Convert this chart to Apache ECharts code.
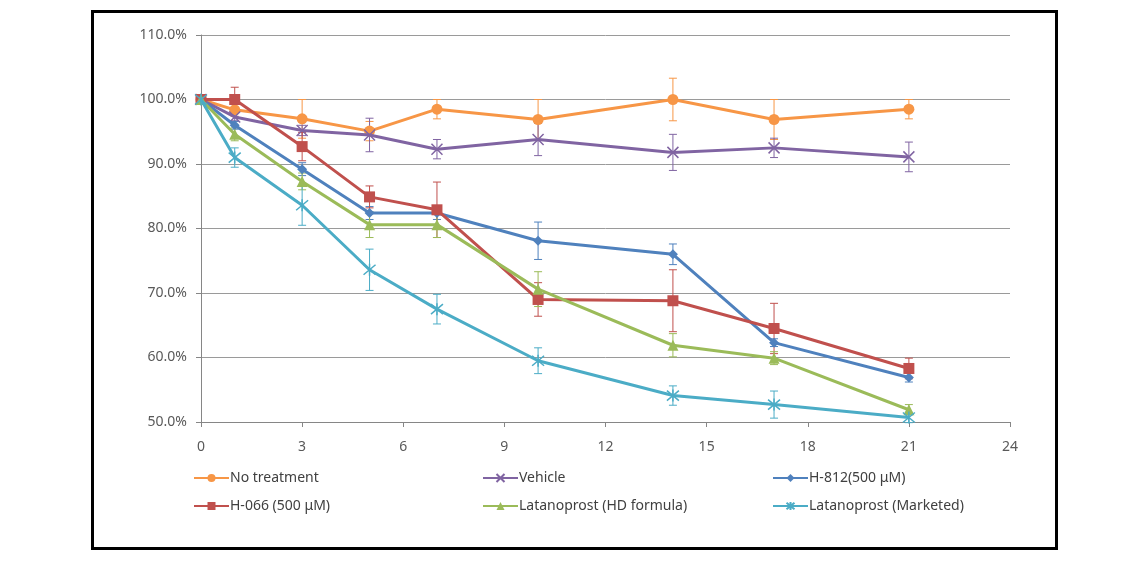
<!DOCTYPE html>
<html>
<head>
<meta charset="utf-8">
<script src="https://cdn.jsdelivr.net/npm/echarts@6/dist/echarts.min.js"></script>
<style>
html,body{margin:0;padding:0;background:#fff;}
#chart{width:1135px;height:574px;}
</style>
</head>
<body>
<div id="chart"></div>
<script>
// ---- data ----
const days = [0, 1, 3, 5, 7, 10, 14, 17, 21];
const seriesNames = ['No treatment', 'Vehicle', 'H-812(500 μM)', 'H-066 (500 μM)', 'Latanoprost (HD formula)', 'Latanoprost (Marketed)'];

const noTreatment     = [100, 98.4, 97.0, 95.1, 98.5, 96.9, 100.0, 96.9, 98.5];
const noTreatmentErr  = [0, 1.0, 3.0, 1.5, 1.5, 3.1, 3.3, 3.1, 1.5];
const vehicle         = [100, 97.3, 95.2, 94.5, 92.3, 93.8, 91.8, 92.5, 91.1];
const vehicleErr      = [0, 0.6, 0.8, 2.6, 1.5, 2.5, 2.8, 1.5, 2.3];
const h812            = [100, 96.0, 89.2, 82.4, 82.4, 78.1, 76.0, 62.3, 56.9];
const h812Err         = [0, 0.6, 1.0, 1.0, 1.0, 2.9, 1.6, 0.6, 0.7];
const h066            = [100, 100.0, 92.7, 84.9, 82.9, 69.0, 68.8, 64.5, 58.3];
const h066Err         = [0, 1.9, 2.2, 1.7, 4.3, 2.6, 4.8, 3.9, 1.6];
const latHD           = [100, 94.6, 87.3, 80.6, 80.6, 70.6, 61.9, 59.9, 51.9];
const latHDErr        = [0, 1.0, 1.3, 2.0, 2.0, 2.7, 1.8, 1.0, 0.8];
const latMkt          = [100, 91.0, 83.6, 73.6, 67.5, 59.5, 54.1, 52.7, 50.7];
const latMktErr       = [0, 1.5, 3.1, 3.2, 2.3, 2.0, 1.5, 2.1, 0.8];

const xTicks = [0, 3, 6, 9, 12, 15, 18, 21, 24];
const yTicks = [50, 60, 70, 80, 90, 100, 110];

// ---- styles ----
const colors = ['#F79646', '#8064A2', '#4F81BD', '#C0504D', '#9BBB59', '#4BACC6'];
const symbols = [
  'circle',
  'path://M0,0L10,10M0,10L10,0',
  'diamond',
  'rect',
  'triangle',
  'path://M0,0L10,10M0,10L10,0M5,-1L5,11'
];
const symbolSizes = [11, 11, 10, 11, 11, 12];
const values = [noTreatment, vehicle, h812, h066, latHD, latMkt];
const errs = [noTreatmentErr, vehicleErr, h812Err, h066Err, latHDErr, latMktErr];

const series = [];
// error bars first (beneath lines)
values.forEach((vals, i) => {
  const data = days.map((d, k) => [d, vals[k] - errs[i][k], vals[k] + errs[i][k]]);
  series.push({
    type: 'custom',
    name: seriesNames[i] + ' err',
    silent: true,
    z: 1,
    data: data,
    renderItem: function (params, api) {
      const x = api.value(0);
      const lo = api.coord([x, api.value(1)]);
      const hi = api.coord([x, api.value(2)]);
      const w = 4;
      const st = { stroke: colors[i], lineWidth: 1 };
      return {
        type: 'group',
        children: [
          { type: 'line', shape: { x1: lo[0], y1: lo[1], x2: hi[0], y2: hi[1] }, style: st },
          { type: 'line', shape: { x1: lo[0] - w, y1: lo[1], x2: lo[0] + w, y2: lo[1] }, style: st },
          { type: 'line', shape: { x1: hi[0] - w, y1: hi[1], x2: hi[0] + w, y2: hi[1] }, style: st }
        ]
      };
    }
  });
});
values.forEach((vals, i) => {
  const isPath = symbols[i].indexOf('path://') === 0;
  series.push({
    type: 'line',
    name: seriesNames[i],
    z: 2 + i,
    data: days.map((d, k) => [d, vals[k]]),
    symbol: symbols[i],
    symbolSize: symbolSizes[i],
    showAllSymbol: true,
    lineStyle: { color: colors[i], width: 3 },
    itemStyle: isPath
      ? { color: 'rgba(0,0,0,0)', borderColor: colors[i], borderWidth: 1.5 }
      : { color: colors[i], borderWidth: 0 },
    emphasis: { disabled: true }
  });
});

const legendPos = [
  [193, 471], [482, 471], [772, 471],
  [193, 499], [482, 499], [772, 499]
];
const legends = seriesNames.map((n, i) => ({
  data: [n],
  left: legendPos[i][0],
  top: legendPos[i][1],
  itemWidth: 35,
  itemHeight: 10,
  itemGap: 0,
  padding: 0,
  selectedMode: false,
  textStyle: { fontFamily: 'Noto Sans', fontSize: 14, color: '#404040', padding: [0, 0, 0, -4] }
}));

const chart = echarts.init(document.getElementById('chart'), null, { renderer: 'canvas' });
chart.setOption({
  animation: false,
  backgroundColor: '#ffffff',
  color: colors,
  legend: legends,
  grid: { left: 201, right: 125, top: 35, bottom: 152, containLabel: false },
  xAxis: {
    type: 'value',
    min: xTicks[0],
    max: xTicks[xTicks.length - 1],
    interval: 3,
    axisLine: { show: true, lineStyle: { color: '#868686', width: 1 } },
    axisTick: { show: true, length: 5, inside: false, lineStyle: { color: '#868686' } },
    axisLabel: { fontFamily: 'Noto Sans', fontSize: 14, color: '#595959', margin: 18 },
    splitLine: { show: false }
  },
  yAxis: {
    type: 'value',
    min: yTicks[0],
    max: yTicks[yTicks.length - 1],
    interval: 10,
    axisLine: { show: true, lineStyle: { color: '#868686', width: 1 } },
    axisTick: { show: true, length: 5, lineStyle: { color: '#868686' } },
    axisLabel: {
      fontFamily: 'Noto Sans', fontSize: 14, color: '#595959', margin: 14,
      formatter: v => v.toFixed(1) + '%'
    },
    splitLine: { show: true, lineStyle: { color: '#9a9a9a', width: 1 } }
  },
  graphic: [{
    type: 'rect',
    left: 90, top: 9,
    shape: { width: 964, height: 537 },
    style: { fill: 'none', stroke: '#000000', lineWidth: 3 },
    z: 100, silent: true
  }],
  series: series
});
</script>
</body>
</html>
